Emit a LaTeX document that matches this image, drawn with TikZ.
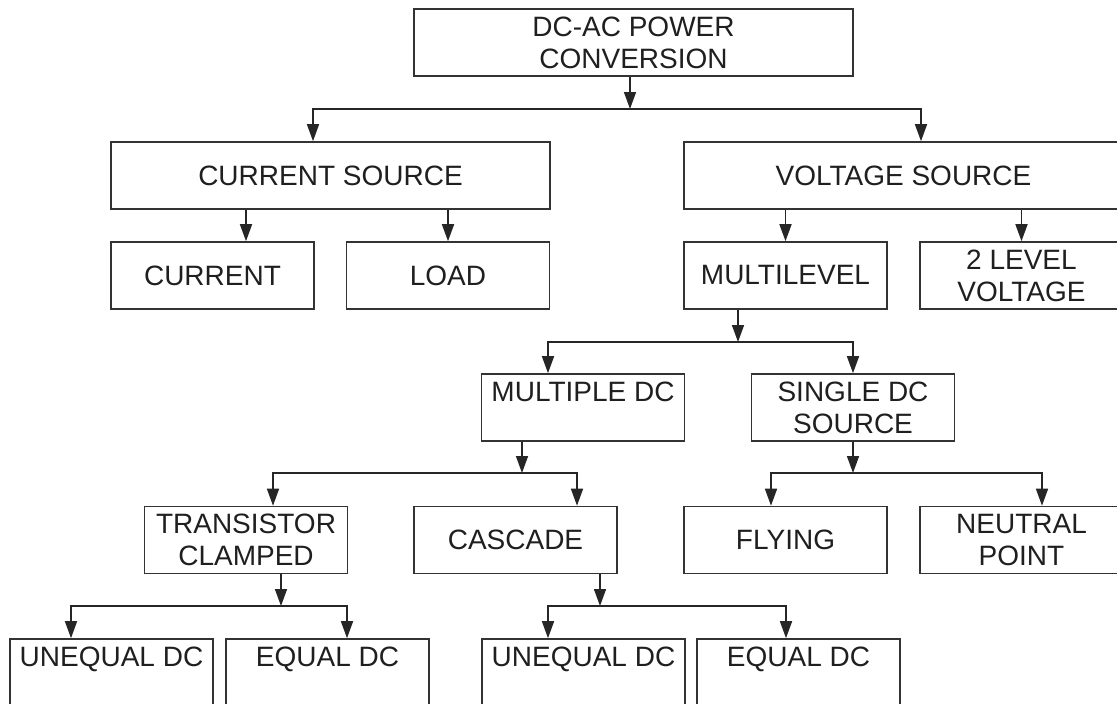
\documentclass[tikz,border=0pt]{standalone}
\usepackage{fontspec}
\setmainfont{Liberation Sans}
\usetikzlibrary{arrows.meta,positioning}
\tikzset{
    block/.style={rectangle, draw=black!80, line width=1.6pt, minimum width=203pt, minimum height=67pt, inner sep=0pt, align=center, text=black!88, font=\fontsize{28}{32}\selectfont},
    wideblock/.style={block, minimum width=439pt},
    link/.style={draw=black!85, line width=1.6pt},
    flow/.style={link, -{Triangle[length=17pt, width=12pt]}}
}

\begin{document}
\begin{tikzpicture}[x=1pt, y=-1pt]
    \useasboundingbox (0,0) rectangle (1117,704);

    % Nodes
    \node[wideblock] (dcac) at (633.5,42.5) {DC-AC POWER\\CONVERSION};
    \node[wideblock] (cursrc) at (330.5,175.5) {CURRENT SOURCE};
    \node[wideblock] (volsrc) at (903.5,175.5) {VOLTAGE SOURCE};
    \node[block] (current) at (212.5,275.5) {CURRENT};
    \node[block] (load) at (448,275.5) {LOAD};
    \node[block] (multilevel) at (785.5,275.5) {MULTILEVEL};
    \node[block] (twolevel) at (1021.5,275.5) {2 LEVEL\\VOLTAGE};
    \node[block] (multidc) at (583,407.5) {MULTIPLE DC\\\mbox{}};
    \node[block] (singledc) at (853,407.5) {SINGLE DC\\SOURCE};
    \node[block] (transistor) at (246,540) {TRANSISTOR\\CLAMPED};
    \node[block] (cascade) at (515.5,540) {CASCADE};
    \node[block] (flying) at (785.5,540) {FLYING};
    \node[block] (neutral) at (1021.5,540) {NEUTRAL\\POINT};
    \node[block] (uneqa) at (111.5,672.5) {UNEQUAL DC\\\mbox{}};
    \node[block] (eqa) at (327.5,672.5) {EQUAL DC\\\mbox{}};
    \node[block] (uneqb) at (583.5,672.5) {UNEQUAL DC\\\mbox{}};
    \node[block] (eqb) at (798.5,672.5) {EQUAL DC\\\mbox{}};

    % junctions
    \coordinate (j1) at (630,109);
    \coordinate (j2) at (738,342);
    \coordinate (j3) at (522,473);
    \coordinate (j4) at (853,473);
    \coordinate (j5) at (281,606);
    \coordinate (j6) at (600,606);

    % edges
    \draw[flow] (dcac.south -| j1) -- (j1);
    \draw[flow] (j1) -| ([xshift=-17.5pt]cursrc.north);
    \draw[flow] (j1) -| ([xshift=17.5pt]volsrc.north);

    \draw[flow] ([xshift=-84.5pt]cursrc.south) -- ([xshift=33.5pt]current.north);
    \draw[flow] ([xshift=117.5pt]cursrc.south) -- (load.north);
    \draw[flow] ([xshift=-118pt]volsrc.south) -- (multilevel.north);
    \draw[flow] ([xshift=118pt]volsrc.south) -- (twolevel.north);

    \draw[flow] (multilevel.south -| j2) -- (j2);
    \draw[flow] (j2) -| ([xshift=-35pt]multidc.north);
    \draw[flow] (j2) -| (singledc.north);

    \draw[flow] (multidc.south -| j3) -- (j3);
    \draw[flow] (j3) -| ([xshift=27pt]transistor.north);
    \draw[flow] (j3) -| ([xshift=61.5pt]cascade.north);

    \draw[flow] (singledc.south -| j4) -- (j4);
    \draw[flow] (j4) -| ([xshift=-14.5pt]flying.north);
    \draw[flow] (j4) -| ([xshift=20.5pt]neutral.north);

    \draw[flow] (transistor.south -| j5) -- (j5);
    \draw[flow] (j5) -| ([xshift=-40.5pt]uneqa.north);
    \draw[flow] (j5) -| ([xshift=19.5pt]eqa.north);

    \draw[flow] (cascade.south -| j6) -- (j6);
    \draw[flow] (j6) -| ([xshift=-35.5pt]uneqb.north);
    \draw[flow] (j6) -| ([xshift=-12.5pt]eqb.north);
\end{tikzpicture}
\end{document}
